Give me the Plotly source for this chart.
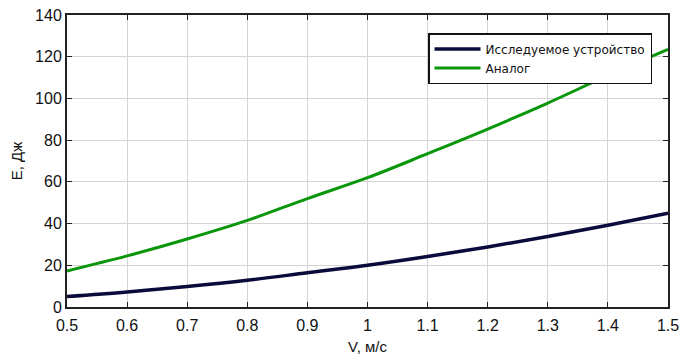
import plotly.graph_objects as go

v = [0.5, 0.6, 0.7, 0.8, 0.9, 1.0, 1.1, 1.2, 1.3, 1.4, 1.5]
e_device = [5.0, 7.2, 9.8, 12.8, 16.4, 20.0, 24.2, 28.8, 33.8, 39.2, 45.0]
e_analog = [17.3, 24.5, 32.6, 41.5, 52.0, 62.0, 73.5, 85.3, 97.8, 111.0, 123.5]
x_ticks = [0.5, 0.6, 0.7, 0.8, 0.9, 1.0, 1.1, 1.2, 1.3, 1.4, 1.5]
x_labels = ["0.5", "0.6", "0.7", "0.8", "0.9", "1", "1.1", "1.2", "1.3", "1.4", "1.5"]
y_ticks = [0, 20, 40, 60, 80, 100, 120, 140]

FONT = "Liberation Sans, Arial"

fig = go.Figure()
fig.add_trace(go.Scatter(x=v, y=e_device, mode="lines", name="Исследуемое устройство",
                         line=dict(color="#0b0b3b", width=3.5, shape="spline")))
fig.add_trace(go.Scatter(x=v, y=e_analog, mode="lines", name="Аналог",
                         line=dict(color="#0a960a", width=3, shape="spline")))

axis_common = dict(showline=True, linecolor="#222222", linewidth=2, mirror="ticks",
                   ticks="inside", ticklen=5, tickcolor="#222222",
                   showgrid=True, gridcolor="#d4d4d4", gridwidth=1, zeroline=False,
                   automargin=False,
                   tickfont=dict(family=FONT, size=16, color="#111111"))

fig.update_xaxes(range=[0.5, 1.5], tickvals=x_ticks, ticktext=x_labels,
                 ticklabelstandoff=3,
                 title=dict(text="V, м/с", font=dict(family=FONT, size=15, color="#111111"),
                            standoff=8),
                 **axis_common)
fig.update_yaxes(range=[0, 140], tickvals=y_ticks,
                 title=dict(text="E, Дж", font=dict(family=FONT, size=15, color="#111111"),
                            standoff=9),
                 **axis_common)

fig.update_layout(
    width=681, height=356,
    margin=dict(l=67, r=13, t=15, b=49),
    paper_bgcolor="white", plot_bgcolor="white",
    showlegend=True,
    legend=dict(x=0.6007, y=0.938, xanchor="left", yanchor="top",
                bgcolor="white", bordercolor="#111111", borderwidth=1.5,
                font=dict(family="DejaVu Sans", size=12, color="#111111"),
                tracegroupgap=0, itemwidth=46),
)

fig.write_html("out.html", config={"displayModeBar": False},
               post_script="document.body.style.margin='0';")
